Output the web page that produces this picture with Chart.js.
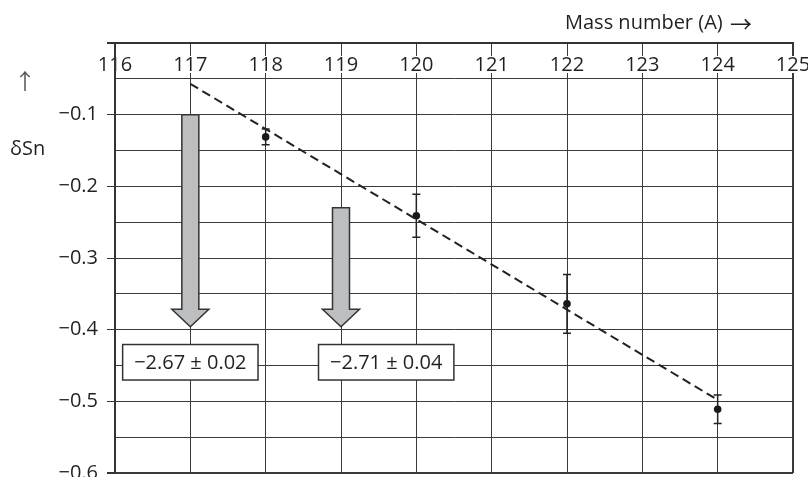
<!DOCTYPE html>
<html>
<head>
<meta charset="utf-8">
<script src="https://cdn.jsdelivr.net/npm/chart.js@4"></script>
<style>
  html, body { margin: 0; padding: 0; background: #fff; }
</style>
</head>
<body>
<canvas id="chart" width="808" height="477"></canvas>
<script>
// measured points with error bars
const massNumbers = [118, 120, 122, 124];
const deltaSn = [-0.131, -0.241, -0.364, -0.511];
const errorsSn = [0.011, 0.03, 0.041, 0.02];

// dashed fit line
const fitX = [117, 124];
const fitY = [-0.057, -0.498];

// grey arrows pointing down to the boxed values
const arrowX = [117, 119];
const arrowTop = [-0.1, -0.23];
const arrowTip = [-0.396, -0.396];

const boxLabels = ['\u22122.67 \u00b1 0.02', '\u22122.71 \u00b1 0.04'];
const boxX = [117, 119.6];
const boxY = [-0.4455, -0.4455];

const xMin = 116, xMax = 125;
const yMin = -0.6, yMax = 0;

const FONT = '"Open Sans", sans-serif';
const ARROW_FONT = '"Noto Sans CJK JP", "DejaVu Sans", sans-serif';
const TEXT = '#231f20';

function isMajor(v) {
  const k = Math.round(v * 100);
  return k % 10 === 0;
}

function drawArrow(ctx, x, yTop, yTip) {
  const shaft = 8.5, head = 18.5, headLen = 17.5;
  ctx.beginPath();
  ctx.moveTo(x - shaft, yTop);
  ctx.lineTo(x + shaft, yTop);
  ctx.lineTo(x + shaft, yTip - headLen);
  ctx.lineTo(x + head, yTip - headLen);
  ctx.lineTo(x, yTip);
  ctx.lineTo(x - head, yTip - headLen);
  ctx.lineTo(x - shaft, yTip - headLen);
  ctx.closePath();
  ctx.fillStyle = '#bdbec0';
  ctx.fill();
  ctx.strokeStyle = '#333';
  ctx.lineWidth = 1.5;
  ctx.stroke();
}

const extras = {
  id: 'extras',
  beforeDatasetsDraw(chart) {
    const ctx = chart.ctx;
    const xs = chart.scales.x, ys = chart.scales.y;
    ctx.save();

    arrowX.forEach((a, i) => {
      drawArrow(ctx, xs.getPixelForValue(a), ys.getPixelForValue(arrowTop[i]), ys.getPixelForValue(arrowTip[i]));
    });

    ctx.font = '20px ' + FONT;
    ctx.textAlign = 'center';
    ctx.textBaseline = 'middle';
    boxLabels.forEach((txt, i) => {
      const cx = xs.getPixelForValue(boxX[i]);
      const cy = ys.getPixelForValue(boxY[i]);
      const w = ctx.measureText(txt).width + 23;
      const h = 35.5;
      ctx.fillStyle = '#fff';
      ctx.fillRect(cx - w / 2, cy - h / 2, w, h);
      ctx.strokeStyle = '#333';
      ctx.lineWidth = 1.5;
      ctx.strokeRect(cx - w / 2, cy - h / 2, w, h);
      ctx.fillStyle = TEXT;
      ctx.fillText(txt, cx, cy + 1);
    });

    // error bars
    ctx.strokeStyle = '#222';
    ctx.lineWidth = 1.5;
    massNumbers.forEach((m, i) => {
      const x = xs.getPixelForValue(m);
      const y1 = ys.getPixelForValue(deltaSn[i] + errorsSn[i]);
      const y2 = ys.getPixelForValue(deltaSn[i] - errorsSn[i]);
      ctx.beginPath();
      ctx.moveTo(x, y1); ctx.lineTo(x, y2);
      ctx.moveTo(x - 4, y1); ctx.lineTo(x + 4, y1);
      ctx.moveTo(x - 4, y2); ctx.lineTo(x + 4, y2);
      ctx.stroke();
    });
    ctx.restore();
  },
  afterDraw(chart) {
    const ctx = chart.ctx;
    ctx.save();
    ctx.textBaseline = 'middle';
    ctx.fillStyle = TEXT;
    ctx.textAlign = 'left';
    ctx.font = '20px ' + FONT;
    const title = 'Mass number (A) ';
    ctx.fillText(title, 565, 23);
    const tw = ctx.measureText(title).width;
    ctx.fillText('\u03b4Sn', 10, 149);

    ctx.font = '22px ' + ARROW_FONT;
    ctx.fillText('\u2192', 565 + tw + 2, 24);
    ctx.fillStyle = '#555';
    ctx.textAlign = 'center';
    ctx.fillText('\u2191', 25, 81);
    ctx.restore();
  }
};

new Chart(document.getElementById('chart'), {
  type: 'scatter',
  data: {
    datasets: [
      {
        label: 'fit',
        data: fitX.map((x, i) => ({ x: x, y: fitY[i] })),
        showLine: true,
        borderColor: '#222',
        borderWidth: 2,
        borderDash: [9, 5],
        pointRadius: 0,
        fill: false,
      },
      {
        label: 'δSn',
        data: massNumbers.map((x, i) => ({ x: x, y: deltaSn[i] })),
        backgroundColor: '#1a1a1a',
        borderWidth: 0,
        pointRadius: 3.8,
      },
    ],
  },
  options: {
    responsive: false,
    animation: false,
    devicePixelRatio: 1,
    layout: { padding: { left: 0, top: 0, right: 15, bottom: 4 } },
    plugins: {
      legend: { display: false },
      tooltip: { enabled: false },
    },
    scales: {
      x: {
        type: 'linear',
        position: 'top',
        min: xMin,
        max: xMax,
        ticks: {
          stepSize: 1,
          mirror: true,
          padding: 10,
          color: TEXT,
          font: { family: FONT, size: 20 },
          showLabelBackdrop: true,
          backdropColor: '#fff',
          backdropPadding: { top: -3, bottom: -4, left: 1, right: 1 },
        },
        grid: {
          color: '#3a3a3a',
          lineWidth: c => (c.tick && c.tick.value === xMax ? 2 : 1),
          drawTicks: false,
        },
        border: { color: '#333', width: 2 },
        afterFit: s => { s.height = 43; s.paddingLeft = 0; s.paddingRight = 0; },
      },
      y: {
        type: 'linear',
        min: yMin,
        max: yMax,
        ticks: {
          stepSize: 0.05,
          padding: 9,
          color: TEXT,
          font: { family: FONT, size: 20 },
          callback: v => {
            const k = Math.round(v * 100);
            if (k === 0 || k % 10 !== 0) return '';
            return '\u2212' + Math.abs(k / 100).toFixed(1);
          },
        },
        grid: {
          color: '#3a3a3a',
          lineWidth: c => {
            const k = c.tick ? Math.round(c.tick.value * 100) : 1;
            return (k === 0 || k === -60) ? 2 : 1;
          },
          tickLength: 8,
          tickColor: c => (c.tick && isMajor(c.tick.value) ? '#333' : 'rgba(0,0,0,0)'),
        },
        border: { color: '#333', width: 2 },
        afterFit: s => { s.width = 115; s.paddingTop = 0; s.paddingBottom = 0; },
      },
    },
  },
  plugins: [extras],
});
</script>
</body>
</html>
